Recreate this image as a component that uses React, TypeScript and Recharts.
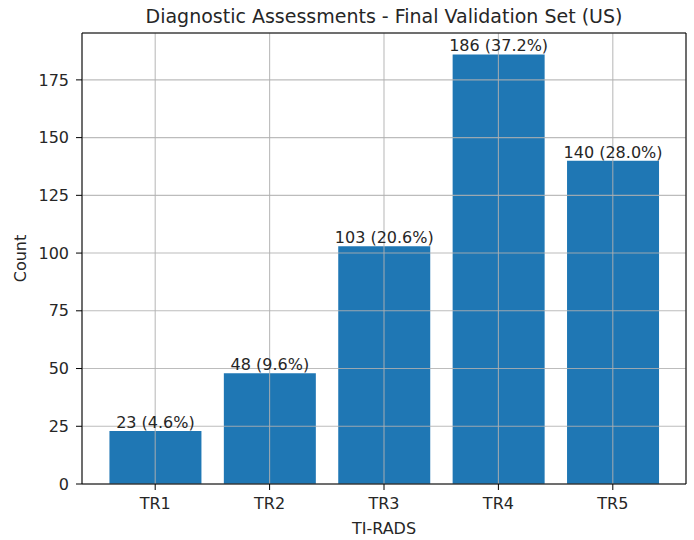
import React from "react";
import {
  BarChart,
  Bar,
  XAxis,
  YAxis,
  CartesianGrid,
  LabelList,
  Label,
} from "recharts";

const categories = ["TR1", "TR2", "TR3", "TR4", "TR5"];
const counts = [23, 48, 103, 186, 140];
const yTicks = [0, 25, 50, 75, 100, 125, 150, 175];

const total = counts.reduce((a, b) => a + b, 0);
const data = categories.map((name, i) => ({
  name,
  count: counts[i],
  label: `${counts[i]} (${((counts[i] / total) * 100).toFixed(1)}%)`,
}));

const yMax = Math.max(...counts) * 1.05;
const font = "DejaVu Sans, sans-serif";
const textColor = "#262626";

// single-line label centred above each bar
const BarLabel = (props: any) => {
  const { x, y, width, value } = props;
  return (
    <text
      x={Number(x) + Number(width) / 2}
      y={Number(y) - 3}
      textAnchor="middle"
      fill={textColor}
      fontSize={16}
      fontFamily={font}
    >
      {value}
    </text>
  );
};

const App: React.FC = () => {
  return (
    <div
      style={{
        position: "absolute",
        left: 0,
        top: 0,
        width: 694,
        height: 540,
        background: "#fff",
        fontFamily: font,
      }}
    >
      <div
        style={{
          position: "absolute",
          left: 82,
          width: 604,
          top: 5,
          textAlign: "center",
          fontSize: 19,
          color: textColor,
        }}
      >
        Diagnostic Assessments - Final Validation Set (US)
      </div>
      <BarChart
        width={694}
        height={540}
        data={data}
        margin={{ top: 32, right: 7, bottom: 0, left: 0 }}
        barCategoryGap="10%"
      >
        <XAxis
          dataKey="name"
          padding={{ left: 16, right: 16 }}
          height={56}
          tickSize={6}
          tickMargin={8}
          stroke="#000"
          tick={{ fill: textColor, fontSize: 16, fontFamily: font }}
        >
          <Label
            value="TI-RADS"
            position="insideBottom"
            offset={6}
            style={{ fill: textColor, fontSize: 16, fontFamily: font }}
          />
        </XAxis>
        <XAxis
          xAxisId="top"
          dataKey="name"
          orientation="top"
          height={1}
          tick={false}
          tickLine={false}
          stroke="#000"
        />
        <YAxis
          domain={[0, yMax]}
          ticks={yTicks}
          width={82}
          tickSize={6}
          tickMargin={7}
          stroke="#000"
          tick={{ fill: textColor, fontSize: 16, fontFamily: font }}
        >
          <Label
            value="Count"
            angle={-90}
            position="insideLeft"
            offset={20}
            style={{
              fill: textColor,
              fontSize: 16,
              fontFamily: font,
              textAnchor: "middle",
            }}
          />
        </YAxis>
        <YAxis
          yAxisId="right"
          orientation="right"
          width={1}
          tick={false}
          tickLine={false}
          stroke="#000"
        />
        <Bar dataKey="count" fill="#1f77b4" isAnimationActive={false}>
          <LabelList dataKey="label" content={BarLabel} />
        </Bar>
        <CartesianGrid
          stroke="#b0b0b0"
          strokeOpacity={0.85}
          strokeWidth={1.1}
          {...({ zIndex: 350 } as any)}
        />
      </BarChart>
    </div>
  );
};

export default App;
